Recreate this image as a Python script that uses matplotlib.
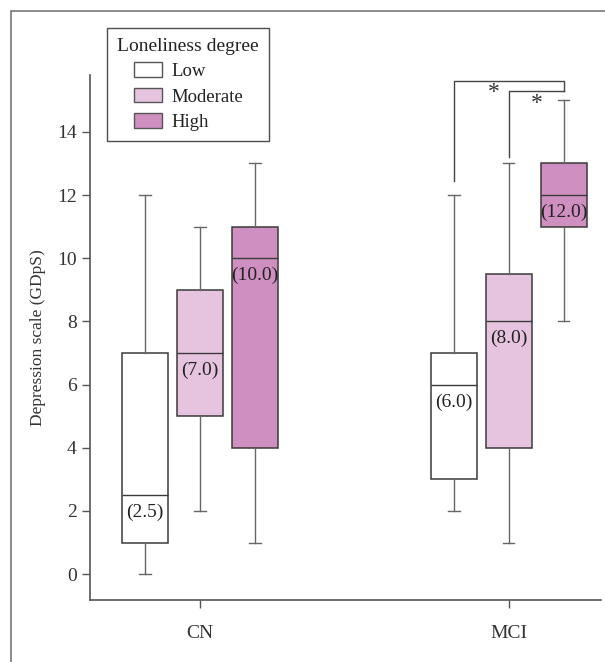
import matplotlib
matplotlib.use("Agg")
import matplotlib.pyplot as plt
from matplotlib.patches import Patch, Rectangle

plt.rcParams['font.family'] = ['Liberation Serif', 'DejaVu Serif']

groups = ['CN', 'MCI']
levels = ['Low', 'Moderate', 'High']
colors = ['#ffffff', '#e6c3de', '#cf8fc1']

# per group, per level: (whislo, q1, median, q3, whishi)
cn_stats = [(0, 1, 2.5, 7, 12), (2, 5, 7, 9, 11), (1, 4, 10, 11, 13)]
mci_stats = [(2, 3, 6, 7, 12), (1, 4, 8, 9.5, 13), (8, 11, 12, 13, 15)]
median_labels = [['(2.5)', '(7.0)', '(10.0)'], ['(6.0)', '(8.0)', '(12.0)']]

offsets = [-0.178, 0.0, 0.178]
box_w = 0.15

fig = plt.figure(figsize=(6.05, 6.62), dpi=100)
ax = fig.add_axes([90 / 605, 1 - 600 / 662, 511 / 605, 525 / 662])

edge = '#3a3a3a'
for gi, stats in enumerate([cn_stats, mci_stats]):
    for li, (lo, q1, med, q3, hi) in enumerate(stats):
        pos = gi + offsets[li]
        st = [dict(whislo=lo, q1=q1, med=med, q3=q3, whishi=hi, fliers=[])]
        ax.bxp(st, positions=[pos], widths=box_w, capwidths=0.036,
               patch_artist=True, showfliers=False,
               boxprops=dict(facecolor=colors[li], edgecolor=edge, linewidth=1.1),
               medianprops=dict(color=edge, linewidth=1.0),
               whiskerprops=dict(color='#666666', linewidth=1.0),
               capprops=dict(color='#666666', linewidth=1.0))
        ax.text(pos, med - 0.55, median_labels[gi][li], ha='center', va='center',
                fontsize=14, color='#222222')

# significance brackets (MCI)
x_low, x_mod, x_high = 1 + offsets[0], 1 + offsets[1], 1 + offsets[2]
bk = dict(color='#444444', linewidth=1.0, clip_on=False)
ax.plot([x_low, x_low, x_high, x_high], [12.45, 15.62, 15.62, 15.3], **bk)
ax.plot([x_mod, x_mod, x_high], [13.2, 15.3, 15.3], **bk)
ax.text(0.951, 15.25, '*', ha='center', va='center', fontsize=17, color='#333333')
ax.text(1.09, 14.9, '*', ha='center', va='center', fontsize=17, color='#333333')

ax.set_xlim(-0.356, 1.298)
ax.set_ylim(-0.82, 15.8)
ax.set_xticks([0, 1])
ax.set_xticklabels(groups)
ax.set_yticks(range(0, 15, 2))
ax.spines['top'].set_visible(False)
ax.spines['right'].set_visible(False)
for s in ['left', 'bottom']:
    ax.spines[s].set_color('#555555')
    ax.spines[s].set_linewidth(1.2)
ax.tick_params(axis='both', direction='out', length=6, width=1, color='#555555',
               labelsize=14, labelcolor='#333333')
ax.tick_params(axis='x', pad=12)
ax.set_ylabel('Depression scale (GDpS)', fontsize=12.5, color='#333333', labelpad=8)

handles = [Patch(facecolor=c, edgecolor='#555555', linewidth=1.0) for c in colors]
leg = ax.legend(handles, levels, title='Loneliness degree', loc='upper left',
                bbox_to_anchor=(107 / 605, 1 - 28 / 662), bbox_transform=fig.transFigure,
                borderaxespad=0, fontsize=13.5, title_fontsize=14, frameon=True,
                fancybox=False, edgecolor='#222222', borderpad=0.55, handlelength=1.5,
                handleheight=0.85, handletextpad=0.5, labelspacing=0.38,
                alignment='center')
leg.get_frame().set_linewidth(1.0)
for t in leg.get_texts():
    t.set_color('#222222')
leg.get_title().set_color('#222222')

# outer frame of the panel
fig.add_artist(Rectangle((11 / 605, -0.1), 1.2, 1.1 - 11 / 662, transform=fig.transFigure,
                         fill=False, edgecolor='#777777', linewidth=1.2))

fig.savefig('out.png', dpi=100)
